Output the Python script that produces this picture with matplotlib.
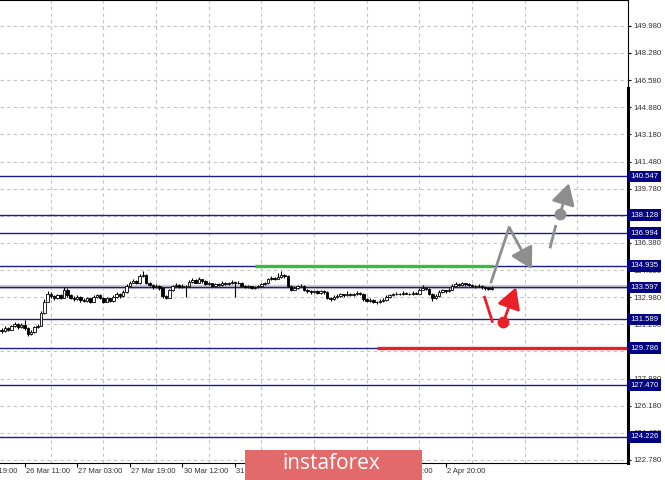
import matplotlib
matplotlib.use("Agg")
import matplotlib.pyplot as plt
import matplotlib.transforms as mtransforms
from matplotlib.patches import Rectangle, FancyArrowPatch

# hourly closes (bar index 0..149), opens follow the previous close
first_open = 130.95
closes = [
    130.85, 131.05, 130.95, 131.15, 131.30, 131.10, 131.25, 131.05, 130.70, 130.80,
    131.10, 131.20, 132.00, 132.70, 133.20, 133.05, 132.90, 133.10, 132.95, 133.45,
    133.10, 132.95, 132.85, 133.00, 132.80, 132.75, 132.90, 132.70, 133.00, 133.10,
    132.95, 132.70, 132.90, 132.75, 133.00, 133.20, 133.05, 133.30, 133.70, 133.90,
    134.00, 133.85, 134.30, 134.40, 133.90, 133.75, 133.60, 133.70, 133.55, 133.05,
    132.95, 133.40, 133.65, 133.75, 133.60, 133.70, 133.65, 133.95, 134.05, 133.90,
    134.10, 134.00, 133.80, 133.85, 133.70, 133.80, 133.75, 133.90, 133.80, 133.85,
    133.95, 133.85, 133.90, 133.70, 133.60, 133.65, 133.55, 133.60, 133.65, 133.80,
    133.85, 134.10, 134.20, 134.15, 134.25, 134.35, 134.30, 133.70, 133.45, 133.55,
    133.65, 133.70, 133.40, 133.35, 133.30, 133.35, 133.25, 133.35, 133.30, 132.95,
    132.85, 133.00, 133.05, 133.15, 133.10, 133.20, 133.10, 133.15, 133.25, 133.20,
    132.85, 132.75, 132.80, 132.70, 132.65, 132.75, 132.80, 133.00, 133.10, 133.15,
    133.20, 133.15, 133.25, 133.20, 133.15, 133.25, 133.20, 133.45, 133.55, 133.50,
    133.20, 132.90, 133.05, 133.30, 133.40, 133.35, 133.45, 133.70, 133.80, 133.75,
    133.85, 133.80, 133.75, 133.70, 133.65, 133.70, 133.60, 133.55, 133.50, 133.55,
]
highs = [
    131.05, 131.15, 131.10, 131.25, 131.40, 131.35, 131.35, 131.55, 131.10, 130.95,
    131.20, 131.30, 132.10, 132.85, 133.35, 133.30, 133.10, 133.20, 133.15, 133.60,
    133.55, 133.15, 133.05, 133.10, 133.05, 132.90, 133.00, 132.95, 133.10, 133.20,
    133.15, 133.00, 133.00, 132.95, 133.10, 133.30, 133.25, 133.40, 133.80, 134.00,
    134.10, 134.05, 134.45, 134.60, 134.45, 133.95, 133.80, 133.80, 133.75, 133.60,
    133.10, 133.50, 133.75, 133.85, 133.80, 133.80, 133.75, 134.05, 134.20, 134.10,
    134.25, 134.15, 134.05, 133.95, 133.90, 133.90, 133.85, 134.00, 133.95, 133.95,
    134.05, 134.00, 134.00, 133.95, 133.75, 133.75, 133.70, 133.70, 133.75, 133.90,
    133.95, 134.20, 134.30, 134.25, 134.50, 134.60, 134.45, 134.35, 133.75, 133.65,
    133.75, 133.80, 133.75, 133.50, 133.45, 133.45, 133.40, 133.45, 133.45, 133.35,
    133.00, 133.10, 133.15, 133.25, 133.20, 133.35, 133.25, 133.25, 133.35, 133.30,
    133.25, 132.90, 132.90, 132.85, 132.75, 132.85, 132.90, 133.10, 133.20, 133.25,
    133.30, 133.25, 133.35, 133.30, 133.25, 133.35, 133.30, 133.55, 133.75, 133.60,
    133.55, 133.25, 133.15, 133.40, 133.50, 133.45, 133.55, 133.80, 133.95, 133.85,
    133.95, 133.90, 133.85, 133.80, 133.75, 133.80, 133.75, 133.65, 133.60, 133.65,
]
lows = [
    130.75, 130.80, 130.85, 130.90, 131.10, 131.00, 131.05, 130.95, 130.55, 130.60,
    130.75, 131.05, 131.15, 131.95, 132.65, 132.95, 132.80, 132.85, 132.85, 132.90,
    133.00, 132.85, 132.75, 132.80, 132.70, 132.65, 132.70, 132.60, 132.65, 132.95,
    132.85, 132.60, 132.65, 132.65, 132.70, 132.95, 132.95, 133.00, 133.25, 133.65,
    133.85, 133.80, 133.80, 134.25, 133.80, 133.65, 133.50, 133.55, 133.45, 132.95,
    132.85, 132.90, 133.35, 133.60, 133.55, 133.55, 133.00, 133.60, 133.90, 133.85,
    133.85, 133.90, 133.75, 133.75, 133.65, 133.65, 133.70, 133.70, 133.75, 133.75,
    133.80, 133.00, 133.80, 133.65, 133.55, 133.55, 133.50, 133.50, 133.55, 133.60,
    133.75, 133.80, 134.05, 134.05, 134.10, 134.20, 134.20, 133.60, 133.35, 133.40,
    133.50, 133.60, 133.35, 133.25, 133.20, 133.25, 133.15, 133.20, 133.20, 132.85,
    132.75, 132.80, 132.95, 133.00, 133.00, 133.05, 133.05, 133.05, 133.10, 133.10,
    132.75, 132.65, 132.70, 132.60, 132.55, 132.60, 132.70, 132.75, 132.95, 133.05,
    133.10, 133.10, 133.10, 133.15, 133.10, 133.10, 133.15, 133.15, 133.40, 133.40,
    133.10, 132.75, 132.85, 133.00, 133.25, 133.25, 133.30, 133.40, 133.65, 133.65,
    133.70, 133.70, 133.65, 133.60, 133.55, 133.60, 133.50, 133.45, 133.40, 133.45,
]

# time axis: label every 16 bars, grid every 8 bars
time_ticks = [-9, 7, 23, 39, 55, 71, 87, 103, 119, 135]
time_labels = ["25 Mar 19:00", "26 Mar 11:00", "27 Mar 03:00", "27 Mar 19:00",
               "30 Mar 12:00", "31 Mar 04:00", "31 Mar 20:00", "1 Apr 12:00",
               "2 Apr 04:00", "2 Apr 20:00"]
grid_x = [-1, 15, 31, 47, 63, 79, 95, 111, 127, 143, 159, 175]

price_ticks = [122.78, 124.48, 126.18, 127.88, 129.58, 131.28, 132.98, 134.68,
               136.38, 138.08, 139.78, 141.48, 143.18, 144.88, 146.58, 148.28, 149.98]

# horizontal levels
levels = [140.547, 138.128, 136.994, 134.935, 133.597, 131.589, 129.786, 127.470, 124.226]
current_price = 133.597

green_level = 134.935
green_span = [77.0, 149.5]
red_level = 129.786
red_span = [114.0, 191.0]

# forecast arrows (bar index, price)
gray_path_x = [148.7, 154.3, 161.2]
gray_path_y = [133.85, 137.36, 134.73]
gray_dash_x = [166.7, 168.5]
gray_dash_y = [136.04, 137.50]
gray_dot = (169.8, 138.20)
gray_tip = (172.5, 140.12)

red_seg_x = [146.7, 149.3]
red_seg_y = [133.06, 131.38]
red_dot = (152.5, 131.40)
red_tip = (156.4, 133.60)

NAVY = "#1c1c8c"
GRAY = "#8e8e8e"
RED = "#e8202a"
GREEN = "#3dbb3d"
TXT = "#303030"
FONT = "Liberation Sans"
ARROW = "-|>,head_length=0.8,head_width=0.45"


def main():
    fig = plt.figure(figsize=(6.65, 4.8), dpi=100)
    ax = fig.add_axes([0, 17.5 / 480, 627.5 / 665, 462.5 / 480])
    ax.set_xlim(-0.456, 190.27)
    ax.set_ylim(122.623, 151.60)

    # grid
    for gx in grid_x:
        ax.axvline(gx, color="#c4c4c4", lw=0.8, ls=(0, (3, 3)), zorder=0)
    for py in price_ticks:
        ax.axhline(py, color="#c4c4c4", lw=0.8, ls=(0, (3, 3)), zorder=0)

    # levels
    ax.axhline(current_price, color="#cfcfcf", lw=3.2, zorder=1)
    for lv in levels:
        ax.axhline(lv, color=NAVY, lw=1.0, zorder=2)
    ax.plot(green_span, [green_level, green_level], color=GREEN, lw=2.4, zorder=3,
            solid_capstyle="butt")
    ax.plot(red_span, [red_level, red_level], color=RED, lw=2.4, zorder=3,
            solid_capstyle="butt")

    # candles
    opens = [first_open] + closes[:-1]
    idx = list(range(len(closes)))
    ax.vlines(idx, lows, highs, color="black", lw=0.8, zorder=4)
    bottoms = [min(o, c) for o, c in zip(opens, closes)]
    heights = [max(abs(c - o), 0.03) for o, c in zip(opens, closes)]
    colors = ["white" if c >= o else "black" for o, c in zip(opens, closes)]
    ax.bar(idx, heights, bottom=bottoms, width=0.75, color=colors,
           edgecolor="black", linewidth=0.6, zorder=5)

    # forecast arrows
    ax.plot(gray_path_x[:2], gray_path_y[:2], color=GRAY, lw=2.0, zorder=6,
            solid_capstyle="butt")
    ax.add_patch(FancyArrowPatch((gray_path_x[1], gray_path_y[1]),
                                 (gray_path_x[2], gray_path_y[2]),
                                 arrowstyle=ARROW, mutation_scale=16, color=GRAY,
                                 lw=2.0, shrinkA=0, shrinkB=0, zorder=6))
    ax.plot(gray_dash_x, gray_dash_y, color=GRAY, lw=2.0, zorder=6,
            solid_capstyle="butt")
    ax.plot([gray_dot[0]], [gray_dot[1]], "o", color=GRAY, ms=7.5, zorder=6)
    ax.add_patch(FancyArrowPatch(gray_dot, gray_tip, arrowstyle=ARROW,
                                 mutation_scale=16, color=GRAY, lw=2.0,
                                 shrinkA=0, shrinkB=0, zorder=6))

    ax.plot(red_seg_x, red_seg_y, color=RED, lw=2.0, zorder=6,
            solid_capstyle="butt")
    ax.plot([red_dot[0]], [red_dot[1]], "o", color=RED, ms=7.5, zorder=6)
    ax.add_patch(FancyArrowPatch(red_dot, red_tip, arrowstyle=ARROW,
                                 mutation_scale=16, color=RED, lw=2.0,
                                 shrinkA=0, shrinkB=0, zorder=6))

    # axes frame
    ax.spines["left"].set_visible(False)
    for side in ["right", "bottom", "top"]:
        ax.spines[side].set_color("black")
        ax.spines[side].set_linewidth(0.8)
    ax.plot([1.0, 1.0], [0, 0.81], transform=ax.transAxes, color="black",
            lw=2.2, clip_on=False, zorder=7)

    # price axis
    ax.yaxis.tick_right()
    ax.set_yticks(price_ticks)
    ax.set_yticklabels([f"{p:.3f}" for p in price_ticks])
    ax.tick_params(axis="y", length=2.5, width=0.8, pad=2, labelsize=5.6,
                   labelcolor=TXT, color="black")
    for lab in ax.get_yticklabels():
        lab.set_family(FONT)

    trans_y = mtransforms.blended_transform_factory(ax.transAxes, ax.transData)
    for lv in levels:
        ax.text(630.5 / 627.5, lv, f"{lv:.3f}", transform=trans_y, ha="left",
                va="center", fontsize=5.6, family=FONT, color="white",
                bbox=dict(boxstyle="square,pad=0.3", fc="#000080", ec="none"),
                clip_on=False, zorder=10)

    # time axis
    ax.set_xticks(time_ticks[1:])
    ax.set_xticklabels([])
    ax.tick_params(axis="x", length=3, width=0.8, color="black")
    trans_x = mtransforms.blended_transform_factory(ax.transData, ax.transAxes)
    for tx, tl in zip(time_ticks, time_labels):
        ax.text(tx + 0.4, -0.0185, tl, transform=trans_x, ha="left", va="center",
                fontsize=5.4, family=FONT, color=TXT, clip_on=False)

    # watermark
    fig.patches.append(Rectangle((245 / 665, 0), 176.5 / 665, 30.5 / 480,
                                 transform=fig.transFigure, fc="#e26a6a",
                                 ec="none", zorder=20))
    fig.text(331.5 / 665, 16.5 / 480, "instaforex", ha="center", va="center",
             fontsize=15, family="Open Sans", color="white", zorder=21)

    fig.savefig("out.png", dpi=100, facecolor="white")


if __name__ == "__main__":
    main()
